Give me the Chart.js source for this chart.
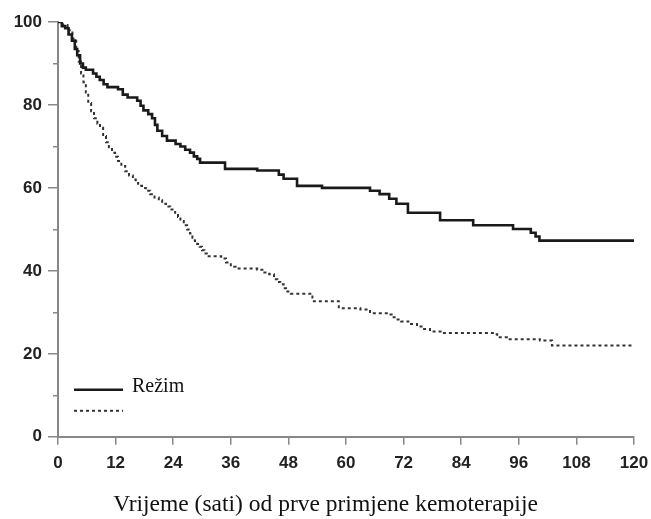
<!DOCTYPE html>
<html lang="hr">
<head>
  <meta charset="UTF-8">
  <title>Preživljenje po režimu</title>
  <script src="https://cdn.jsdelivr.net/npm/chart.js"></script>
  <style>
    html, body {
      margin: 0;
      padding: 0;
      background: #fff;
    }
    #wrap {
      width: 651px;
      height: 519px;
    }
  </style>
</head>
<body>
  <div id="wrap">
    <canvas id="kmChart" width="651" height="519"></canvas>
  </div>

  <script>
    // Solid curve (Režim) - time in hours, survival in %
    const solidTimes = [0, 0.8, 1.5, 2.2, 2.9, 3.5, 4, 4.6, 5.2, 5.8, 7.3, 8, 8.7, 9.5, 10.3, 12.5, 13.5,
      14.5, 16.5, 17.2, 17.8, 18.8, 19.6, 20.2, 20.7, 21.7, 22.7, 24.5, 25.5, 26.5, 27.5, 28.3, 29, 29.6,
      34.8, 41.5, 46, 47, 49.8, 55, 65, 67, 69, 70.5, 72.9, 79.6, 86.5, 94.8, 98.5, 99.5, 100.3, 120];
    const solidSurvival = [100, 99, 98.5, 97, 95.5, 93.5, 92, 90, 89, 88.5, 87.6, 86.8, 86, 85, 84.3, 83.8, 82.5,
      81.8, 81, 79.8, 78.7, 77.8, 76.8, 75.2, 73.8, 72.5, 71.4, 70.6, 70, 69.2, 68.5, 67.6, 67, 66.1,
      64.6, 64.2, 63.2, 62.2, 60.5, 60, 59.3, 58.5, 57.4, 56.2, 54, 52.2, 51, 50.1, 49.2, 48.3, 47.3, 47.3];

    // Dotted curve
    const dottedTimes = [0, 1, 2, 3, 3.8, 4.3, 4.8, 5.3, 5.8, 6.3, 6.9, 7.5, 8.2, 8.75, 9.4, 10, 10.6, 11.25,
      11.9, 12.5, 13.2, 14, 14.8, 15.6, 16.2, 16.7, 17.5, 18.3, 19.2, 20.1, 21, 21.7, 22.5, 23.4, 24.4, 25,
      25.5, 26.2, 26.9, 27.5, 28, 28.5, 29, 29.5, 30, 30.5, 31, 34, 35, 36, 37, 41.5, 43, 44, 45, 45.7, 46.3,
      47, 47.5, 48.5, 53, 58.5, 63, 65, 68.5, 69.5, 70.5, 71.5, 73, 74.8, 76, 77.5, 80, 90.6, 91.5, 93.5,
      100.4, 102.9, 120];
    const dottedSurvival = [100, 99.3, 98, 96, 93, 90.5, 87.6, 85.5, 83, 80.5, 78.5, 76.8, 75.5, 74.5, 72.5, 71, 69.8, 68.5,
      67.5, 66.5, 65.3, 64, 63, 62, 61.2, 60.5, 60, 59.3, 58.5, 57.7, 57, 56.2, 55.5, 54.8, 54, 53,
      52, 51, 50, 49, 48, 47.2, 46.5, 45.8, 45, 44.2, 43.5, 43, 42, 41, 40.6, 40.3, 39.6, 39.2, 38, 37.3, 36.8,
      35.8, 35, 34.5, 32.7, 31, 30.7, 29.8, 29.5, 28.8, 28.3, 27.8, 27.2, 26.6, 26, 25.4, 25, 24.7, 24, 23.5,
      23.2, 22, 22];

    const xTickValues = [0, 12, 24, 36, 48, 60, 72, 84, 96, 108, 120];
    const yTickValues = [0, 10, 20, 30, 40, 50, 60, 70, 80, 90, 100];
    const yLabelValues = [0, 20, 40, 60, 80, 100];

    const legendLabel = 'Režim';
    const xTitle = 'Vrijeme (sati) od prve primjene kemoterapije';

    function toPoints(xs, ys) {
      return xs.map((x, i) => ({ x: x, y: ys[i] }));
    }

    function isMajorY(ctx) {
      return ctx.tick && yLabelValues.includes(ctx.tick.value);
    }

    // Small legend inside the plot, lower left
    const insideLegend = {
      id: 'insideLegend',
      afterDraw(chart) {
        const ctx = chart.ctx;
        const a = chart.chartArea;
        const x0 = a.left + 16;
        const y1 = a.bottom - 47;
        const y2 = a.bottom - 26;
        ctx.save();
        ctx.strokeStyle = '#1a1a1a';
        ctx.lineWidth = 2.6;
        ctx.beginPath();
        ctx.moveTo(x0, y1);
        ctx.lineTo(x0 + 49, y1);
        ctx.stroke();
        ctx.strokeStyle = '#333';
        ctx.lineWidth = 2;
        ctx.setLineDash([3, 3]);
        ctx.beginPath();
        ctx.moveTo(x0, y2);
        ctx.lineTo(x0 + 49, y2);
        ctx.stroke();
        ctx.setLineDash([]);
        ctx.fillStyle = '#111';
        ctx.font = '20px "Liberation Serif", "Times New Roman", serif';
        ctx.textBaseline = 'alphabetic';
        ctx.fillText(legendLabel, x0 + 58, y1 + 2);
        ctx.restore();
      }
    };

    const ctx = document.getElementById('kmChart').getContext('2d');
    new Chart(ctx, {
      type: 'line',
      data: {
        datasets: [
          {
            label: legendLabel,
            data: toPoints(solidTimes, solidSurvival),
            borderColor: '#1a1a1a',
            borderWidth: 2.6,
            stepped: true,
            pointRadius: 0,
            fill: false
          },
          {
            label: '',
            data: toPoints(dottedTimes, dottedSurvival),
            borderColor: '#333',
            borderWidth: 2,
            borderDash: [3, 3],
            stepped: true,
            pointRadius: 0,
            fill: false
          }
        ]
      },
      options: {
        responsive: false,
        animation: false,
        layout: {
          padding: { top: 22, right: 0, left: 0, bottom: 0 }
        },
        plugins: {
          legend: { display: false },
          tooltip: { enabled: false },
          title: {
            display: true,
            position: 'bottom',
            text: xTitle,
            color: '#111',
            font: { family: '"Liberation Serif", "Times New Roman", serif', size: 23.5, weight: 'normal' },
            padding: { top: 0, bottom: 0 }
          }
        },
        scales: {
          x: {
            type: 'linear',
            min: 0,
            max: 120,
            afterBuildTicks: s => { s.ticks = xTickValues.map(v => ({ value: v })); },
            afterFit: s => {
              s.height = 54;
              s.paddingLeft = 0;
              s.paddingRight = 17;
            },
            border: { color: '#888', width: 2 },
            grid: { drawOnChartArea: false, color: '#888', lineWidth: 1.5, tickLength: 8 },
            ticks: {
              color: '#222',
              padding: 8,
              maxRotation: 0,
              font: { family: '"Liberation Sans", Arial, sans-serif', size: 17, weight: 'bold' }
            }
          },
          y: {
            min: 0,
            max: 100,
            afterBuildTicks: s => { s.ticks = yTickValues.map(v => ({ value: v })); },
            afterFit: s => { s.width = 58; },
            border: { color: '#888', width: 2 },
            grid: {
              drawOnChartArea: false,
              color: '#888',
              lineWidth: 1.5,
              tickLength: 10,
              // minor ticks only show the half next to the axis
              tickBorderDash: c => isMajorY(c) ? [] : [5, 5],
              tickBorderDashOffset: c => isMajorY(c) ? 0 : 5
            },
            ticks: {
              color: '#222',
              padding: 6,
              callback: v => yLabelValues.includes(v) ? v : '',
              font: { family: '"Liberation Sans", Arial, sans-serif', size: 17, weight: 'bold' }
            }
          }
        }
      },
      plugins: [insideLegend]
    });
  </script>
</body>
</html>
